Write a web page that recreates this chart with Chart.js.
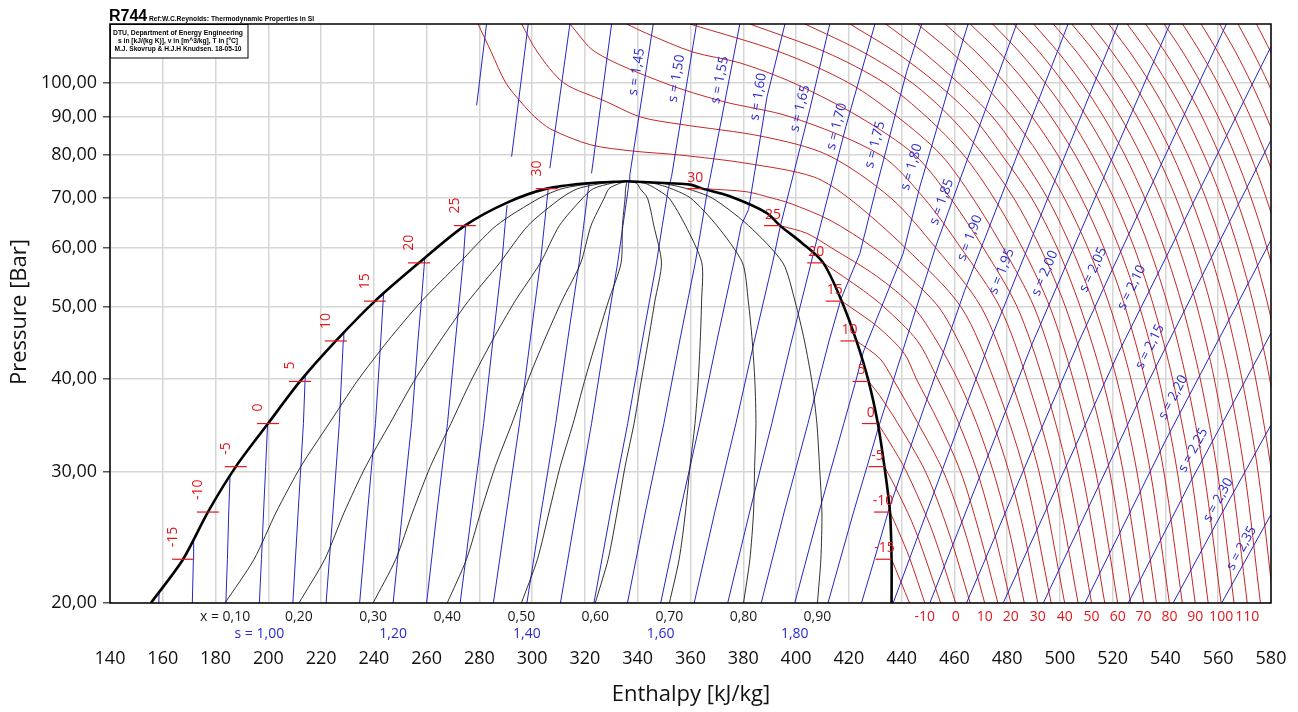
<!DOCTYPE html>
<html><head><meta charset="utf-8">
<script src="https://cdn.jsdelivr.net/npm/chart.js@4.4.1/dist/chart.umd.min.js"></script>
<style>html,body{margin:0;padding:0;background:#fff}canvas{display:block}</style>
</head><body>
<canvas id="c" width="1298" height="712"></canvas>
<script>
// ---------- axes ----------
const enthalpyTicks = [140,160,180,200,220,240,260,280,300,320,340,360,380,400,420,440,460,480,500,520,540,560,580];
const pressureTicks = [20,30,40,50,60,70,80,90,100];

// ---------- saturation dome ----------
const liquidLineH = [155.5,167.7,177.1,187.7,199.9,212.0,225.6,240.4,257.1,274.5,290.3,305.5,320.6,335.8];
const liquidLineP = [20,22.9,26.5,30.5,34.85,39.7,45.0,50.9,57.3,64.3,69.0,72.1,73.3,73.77];
const vaporLineH = [335.8,352.2,359.8,364.5,374.9,388.8,393.9,402.1,410.3,417.3,422.9,427.5,431.0,433.5,435.6,436.2,436.2];
const vaporLineP = [73.77,73.3,73.0,72.1,70.4,66.9,64.3,61.0,57.3,50.9,45.0,39.7,34.85,30.5,26.5,22.9,20];

// ---------- saturation temperature marks ----------
const satTemps = [-15,-10,-5,0,5,10,15,20,25,30];
const satPress = [22.9,26.5,30.5,34.85,39.7,45.0,50.9,57.3,64.3,72.1];
const satLiqH  = [167.7,177.1,187.7,199.9,212.0,225.6,240.4,257.1,274.5,305.5];
const satVapH  = [436.2,435.6,433.5,431.0,427.5,422.9,417.3,410.3,393.9,364.5];

// ---------- quality lines ----------
const qualities = [0.1,0.2,0.3,0.4,0.5,0.6,0.7,0.8,0.9];
const qualityP = [20,22.9,26.5,30.5,34.85,39.7,45.0,50.9,57.3,64.3,70,72.1,73.3,73.77];
const qualityH = [
 [183.6,194.6,203.0,212.3,223.0,233.6,245.3,258.1,272.4,286.4,302.7,311.4,323.8,335.8],
 [211.6,221.4,228.8,236.9,246.1,255.1,265.1,275.8,287.7,298.4,310.9,317.3,326.9,335.8],
 [239.7,248.3,254.7,261.4,269.2,276.7,284.8,293.5,303.1,310.3,319.1,323.2,330.1,335.8],
 [267.8,275.1,280.5,286.0,292.3,298.2,304.5,311.2,318.4,322.3,327.3,329.1,333.2,335.8],
 [295.9,302.0,306.4,310.6,315.5,319.8,324.3,328.9,333.7,334.2,335.2,335.4,335.8,335.8],
 [323.9,328.8,332.2,335.2,338.6,341.3,344.0,346.5,349.0,346.1,343.7,340.9,339.6,335.8],
 [352.0,355.7,358.1,359.8,361.7,362.9,363.7,364.2,364.3,358.1,351.9,346.8,342.7,335.8],
 [380.1,382.5,383.9,384.3,384.8,384.4,383.4,381.9,379.7,370.0,360.1,352.7,345.9,335.8],
 [408.1,409.4,409.8,408.9,407.9,406.0,403.2,399.6,395.0,382.0,368.3,358.6,349.0,335.8]
];

// ---------- isentropes (h,p pairs) ----------
const isentropeS = [0.85,0.90,0.95,1.00,1.05,1.10,1.15,1.20,1.25,1.30,1.35,1.40,1.45,1.50,1.55,1.60,1.65,1.70,1.75,1.80,1.85,1.90,1.95,2.00,2.05,2.10,2.15,2.20,2.25,2.30,2.35];
const isentropeLines = [
 [158.5,20, 158.6,20.7],
 [171.2,20, 171.6,22.9, 171.7,24.4],
 [183.9,20, 184.5,22.9, 185.0,26.5, 185.5,29.7],
 [196.6,20, 197.4,22.9, 198.2,26.5, 199.0,30.5, 199.7,34.7],
 [209.3,20, 211.3,26.5, 213.3,34.85, 214.0,40.5],
 [221.9,20, 224.5,26.5, 226.9,34.85, 228.4,45, 228.6,46.1],
 [234.6,20, 237.6,26.5, 240.6,34.85, 242.6,45, 243.7,52.2],
 [247.3,20, 250.8,26.5, 254.3,34.85, 256.7,45, 258.0,50.9, 259.3,58.1],
 [260.0,20, 263.9,26.5, 267.9,34.85, 270.9,45, 273.8,57.3, 274.8,64.4],
 [272.7,20, 277.1,26.5, 281.6,34.85, 285.1,45, 288.5,57.3, 289.7,64.3, 290.5,68.5],
 [285.3,20, 290.3,26.5, 295.2,34.85, 299.2,45, 303.1,57.3, 304.6,64.3, 306.1,72.1],
 [298.0,20, 303.4,26.5, 308.9,34.85, 313.4,45, 317.8,57.3, 319.5,64.3, 321.3,72.1, 321.6,73.2],
 [310.7,20, 316.6,26.5, 322.5,34.85, 327.5,45, 332.4,57.3, 334.4,64.3, 336.4,72.1, 336.7,73.77, 337.0,75.2, 345.9,120],
 [323.4,20, 329.7,26.5, 336.2,34.85, 341.7,45, 347.1,57.3, 349.3,64.3, 351.6,72.1, 352.8,74.8, 362.3,120],
 [336.1,20, 342.9,26.5, 349.9,34.85, 355.9,45, 361.8,57.3, 364.2,64.3, 366.4,71.6, 367.4,74.4, 378.7,120],
 [348.7,20, 356.0,26.5, 363.5,34.85, 370.0,45, 376.4,57.3, 379.2,64.3, 382.0,67.6, 389.0,95.8, 395.8,120],
 [361.4,20, 369.2,26.5, 377.2,34.85, 384.2,45, 391.1,57.3, 394.1,64.3, 405.3,92.4, 412.8,120],
 [374.1,20, 382.4,26.5, 390.8,34.85, 398.3,45, 405.7,57.3, 406.5,58.9, 418.9,87.4, 429.9,120],
 [386.8,20, 395.5,26.5, 404.5,34.85, 412.5,45, 417.0,51.2, 424.2,59, 430.5,72.5, 436.2,86.7, 441.9,103.5, 447.6,120],
 [399.5,20, 408.7,26.5, 418.1,34.85, 422.6,39.7, 425.5,43.5, 440.6,59, 446.9,72.5, 453.3,86.7, 459.6,103.5, 465.2,120],
 [412.1,20, 421.8,26.5, 426.9,30.5, 431.2,34.4, 453.3,60.8, 483.6,120],
 [424.8,20, 429.7,22.9, 435.3,26.8, 463.9,52.6, 503.1,120],
 [436.8,20, 473.2,44.7, 522.1,120],
 [450.7,20, 489.6,44.7, 541.7,120],
 [464.6,20, 506.9,44.7, 563.1,120],
 [478.5,20, 522.2,43.4, 580,111.9],
 [493.7,20, 531.0,38.1, 580,83.8],
 [509.5,20, 540.1,33.1, 580,61.5],
 [525.9,20, 549.5,29.1, 580,46.1],
 [542.9,20, 559.3,25.6, 580,34.7],
 [561.3,20, 580,26.3]
];
const upperIsentropeS = [1.25,1.30,1.35,1.40];
const upperIsentropeLines = [
 [278.95,93.3, 282.7,120],
 [292.2,79.6, 298.5,120],
 [306.7,76.8, 314.3,120],
 [322.5,75.6, 330.1,120]
];
const sLabelS = [1.45,1.50,1.55,1.60,1.65,1.70,1.75,1.80,1.85,1.90,1.95,2.00,2.05,2.10,2.15,2.20,2.25,2.30,2.35];
const sLabelH = [339.6,354.7,371.1,385.7,401.5,415.4,429.9,443.8,455.2,465.9,477.9,494.3,512.6,527.2,534.1,542.9,550.5,560.0,568.8];
const sLabelP = [103.5,101.4,100.9,95.8,92.4,87.4,82.6,77.1,69.2,61.9,55.8,55.5,56.1,53.1,44.2,37.8,32.1,27.5,23.7];
const sBottomLabelS = [1.00,1.20,1.40,1.60,1.80];

// ---------- isotherms (h,p pairs) ----------
const isothermTemps = [-15,-10,-5,0,5,10,15,20,25,30,35,40,45,50,55,60,65,70,75];
const isothermLines = [
 [436.2,22.9, 443,20],
 [435.6,26.5, 438.8,25, 443.0,23, 448.8,20],
 [433.5,30.5, 439.0,28, 445.3,25, 454.8,20],
 [431.0,34.85, 435.2,33, 441.9,30, 451.6,25, 460.5,20],
 [427.5,39.7, 431.7,38, 438.3,35, 449.1,30, 457.7,25, 466,20],
 [422.9,45, 431.8,42.6, 436.7,40, 446,35, 455.9,30, 463.9,25, 471.5,20],
 [417.3,50.9, 420.5,50, 431,47, 441,43.3, 445.6,40, 454,35, 462.4,30, 469.3,25, 476.5,20],
 [410.3,57.3, 425.5,52.6, 433.3,50, 446,45, 453.7,40, 461.5,35, 468.7,30, 475,25, 481.4,20],
 [393.9,64.3, 404,62.8, 413.5,60, 430.5,55, 444.4,50, 453.3,45, 461.2,40, 468.3,35, 474.8,30, 480.8,25, 486.5,20],
 [364.5,72.1, 381.3,71.4, 391,70, 397.7,68.9, 412.8,65.4, 429.5,60, 442.5,55, 454,50, 461.5,45, 468.2,40, 474.6,35, 480.7,30, 486.3,25, 491.6,20],
 [279.5,120, 284.5,110, 290,100, 296,94, 301,90, 307,86.7, 322,82.6, 338,81, 356,80, 381,78, 406.5,74.8, 420,70, 441.5,60, 462.5,50, 474.9,40, 486.5,30, 496.7,20],
 [296,120, 302,110, 312,100, 328,94.4, 341,90, 356,88, 387.5,84.7, 412,80, 436,70, 453,60, 470.1,50, 481.3,40, 492.1,30, 501.8,20],
 [314.3,120, 324,110, 350,100, 372.4,94.4, 398,90, 432,80, 448.5,70, 462.5,60, 477.2,50, 487.5,40, 497.6,30, 506.9,20],
 [335.8,120, 343.3,116.6, 361,110, 378.7,106.4, 399,100, 424,90, 445,80, 458.5,70, 471,60, 483.8,50, 493.5,40, 503,30, 512,20],
 [359.8,120, 394,110, 420,100, 438.5,90, 455,80, 467,70, 478.5,60, 490.2,50, 499.3,40, 508.4,30, 517,20],
 [382.5,120, 411.2,110, 433.5,100, 449.5,90, 463.5,80, 475,70, 485.8,60, 496.2,50, 505,40, 513.6,30, 521.9,20],
 [403.4,120, 425.4,110, 444,100, 458.5,90, 471,80, 482.5,70, 492.6,60, 502.1,50, 510.6,40, 518.9,30, 526.8,20],
 [420.4,120, 437.7,110, 453.1,100, 467,90, 478,80, 489.3,70, 499,60, 507.7,50, 516.1,40, 524,30, 531.7,20],
 [434,120, 448.2,110, 461.5,100, 474.5,90, 485,80, 495.3,70, 504.4,60, 513.2,50, 521.5,40, 529.2,30, 536.6,20]
];
const hotIsothermTemps = [80,85,90,95,100,105,110,115,120,125,130,135,140,145,150,155,160,165];
const hotIsothermP = [120,110,100,90,80,70,60,50,40,30,20];
const hotIsothermH = [
 [446.0,458.8,470.7,481.8,492.1,501.7,510.6,519.0,526.9,534.3,541.5],
 [456.5,468.2,479.2,489.5,499.2,508.2,516.7,524.7,532.2,539.4,546.4],
 [466.0,476.9,487.1,496.7,505.8,514.4,522.5,530.2,537.5,544.5,551.3],
 [474.5,484.7,494.4,503.6,512.2,520.4,528.2,535.6,542.7,549.6,556.2],
 [482.5,492.2,501.4,510.2,518.5,526.4,533.9,541.1,547.9,554.6,561.1],
 [490.0,499.3,508.2,516.6,524.6,532.2,539.5,546.5,553.2,559.7,566.0],
 [497.5,506.4,514.9,523.0,530.7,538.1,545.2,552.0,558.5,564.8,571.0],
 [504.5,513.2,521.4,529.3,536.8,544.0,550.8,557.4,563.8,570.0,576.0],
 [511.5,519.8,527.8,535.4,542.7,549.6,556.3,562.8,569.0,575.1,581.0],
 [518.5,526.5,534.2,541.5,548.5,555.3,561.8,568.1,574.2,580.2,586.0],
 [525.5,533.2,540.6,547.8,554.6,561.2,567.5,573.6,579.5,585.3,591.0],
 [532.5,539.9,547.0,553.9,560.5,566.8,573.0,579.0,584.8,590.4,596.0],
 [539.5,546.6,553.4,560.0,566.3,572.5,578.5,584.3,590.0,595.5,601.0],
 [546.5,553.2,559.8,566.1,572.2,578.2,584.0,589.6,595.2,600.6,606.0],
 [553.5,559.9,566.1,572.2,578.1,583.9,589.5,595.0,600.4,605.7,611.0],
 [560.5,566.6,572.5,578.3,584.0,589.5,595.0,600.3,605.6,610.8,616.0],
 [567.5,573.2,578.9,584.4,589.9,595.2,600.5,605.7,610.8,615.9,621.0],
 [574.5,579.9,585.3,590.5,595.7,600.9,606.0,611.0,616.1,621.1,626.0]
];
const bottomTempLabels = [-10,0,10,20,30,40,50,60,70,80,90,100,110];

// ---------- build datasets ----------
const RED_LINE = 'rgb(196,38,38)', BLUE_LINE = 'rgb(38,38,196)';
const RED_TXT = '#e3161b', BLUE_TXT = '#2a2ad0';
const pairs = a => { const r = []; for (let i = 0; i < a.length; i += 2) r.push({x: a[i], y: a[i+1]}); return r; };
const fmt = (v, d) => v.toFixed(d).replace('.', ',');

const isoByT = {};
isothermTemps.forEach((t, i) => { isoByT[t] = pairs(isothermLines[i]); });
hotIsothermTemps.forEach((t, i) => { isoByT[t] = hotIsothermP.map((p, j) => ({x: hotIsothermH[i][j], y: p})); });
const sByS = {};
isentropeS.forEach((s, i) => { sByS[s.toFixed(2)] = pairs(isentropeLines[i]); });

const datasets = [];
Object.keys(isoByT).forEach(t => datasets.push({data: isoByT[t], borderColor: RED_LINE, borderWidth: 1, tension: 0.3, order: 4}));
isentropeS.forEach(s => datasets.push({data: sByS[s.toFixed(2)], borderColor: BLUE_LINE, borderWidth: 1, tension: 0, order: 3}));
upperIsentropeLines.forEach(a => datasets.push({data: pairs(a), borderColor: BLUE_LINE, borderWidth: 1, tension: 0, order: 3}));
qualityH.forEach(row => datasets.push({data: qualityP.map((p, j) => ({x: row[j], y: p})), borderColor: '#1a1a1a', borderWidth: 0.9, tension: 0.25, order: 2}));
datasets.push({data: liquidLineH.map((h, i) => ({x: h, y: liquidLineP[i]})), borderColor: '#000', borderWidth: 2.6, tension: 0.3, order: 1});
datasets.push({data: vaporLineH.map((h, i) => ({x: h, y: vaporLineP[i]})), borderColor: '#000', borderWidth: 2.6, tension: 0.3, order: 1});
datasets.forEach(d => { d.showLine = true; d.pointRadius = 0; d.fill = false; });

function upAngle(pts, py) {
  let best = null, bd = 1e9;
  for (let i = 0; i < pts.length - 1; i++) {
    const a = pts[i], b = pts[i+1];
    const lo = Math.min(a.y, b.y), hi = Math.max(a.y, b.y);
    const d = py < lo ? lo - py : (py > hi ? py - hi : 0);
    if (d < bd) { bd = d; best = [a, b]; }
  }
  let dx = best[1].x - best[0].x, dy = best[1].y - best[0].y;
  if (dy > 0) { dx = -dx; dy = -dy; }
  return Math.atan2(dy, dx);
}

const overlay = {
  id: 'overlay',
  afterDatasetsDraw(chart) {
    const {ctx, chartArea: a, scales: {x, y}} = chart;
    const X = h => x.getPixelForValue(h), Y = p => y.getPixelForValue(p);
    ctx.save();
    // saturation temperature marks
    ctx.strokeStyle = RED_TXT; ctx.fillStyle = RED_TXT; ctx.lineWidth = 1.2;
    ctx.font = '14px "Open Sans"';
    satTemps.forEach((t, i) => {
      const yy = Y(satPress[i]);
      const xl = X(satLiqH[i]);
      ctx.beginPath(); ctx.moveTo(xl - 11, yy); ctx.lineTo(xl + 11, yy); ctx.stroke();
      ctx.save(); ctx.translate(xl - 10, yy - 12); ctx.rotate(-Math.PI / 2);
      ctx.textAlign = 'left'; ctx.textBaseline = 'middle'; ctx.fillText(String(t), 0, 0); ctx.restore();
      const xv = X(satVapH[i]);
      ctx.beginPath(); ctx.moveTo(xv - 16, yy); ctx.lineTo(xv, yy); ctx.stroke();
      ctx.textAlign = 'center'; ctx.textBaseline = 'middle'; ctx.fillText(String(t), xv - 7, yy - 11);
    });
    // isentrope labels
    ctx.fillStyle = BLUE_TXT; ctx.font = '13.5px "Open Sans"';
    ctx.textAlign = 'center'; ctx.textBaseline = 'middle';
    sLabelS.forEach((s, i) => {
      const px = X(sLabelH[i]), py = Y(sLabelP[i]);
      const pts = sByS[s.toFixed(2)].map(q => ({x: X(q.x), y: Y(q.y)}));
      const ang = upAngle(pts, py);
      ctx.save(); ctx.translate(px, py); ctx.rotate(ang);
      ctx.fillText('s = ' + fmt(s, 2), 0, 0); ctx.restore();
    });
    // bottom rows
    ctx.font = '14px "Open Sans"'; ctx.textAlign = 'center'; ctx.textBaseline = 'middle';
    ctx.fillStyle = '#1a1a1a';
    qualities.forEach((q, i) => ctx.fillText((i === 0 ? 'x = ' : '') + fmt(q, 2), X(qualityH[i][0]), 617));
    ctx.fillStyle = BLUE_TXT;
    sBottomLabelS.forEach((s, i) => ctx.fillText((i === 0 ? 's = ' : '') + fmt(s, 2), X(sByS[s.toFixed(2)][0].x), 634));
    ctx.fillStyle = RED_TXT;
    bottomTempLabels.forEach(t => { const pts = isoByT[t]; ctx.fillText(String(t), X(pts[pts.length - 1].x), 617); });
    // frame
    ctx.strokeStyle = '#000'; ctx.lineWidth = 1.5;
    ctx.strokeRect(a.left, a.top, a.right - a.left, a.bottom - a.top);
    // header
    ctx.fillStyle = '#000'; ctx.textAlign = 'left'; ctx.textBaseline = 'alphabetic';
    ctx.font = 'bold 16px "Liberation Sans"'; ctx.fillText('R744', 109, 21);
    ctx.font = 'bold 8px "Liberation Sans"'; ctx.fillText('Ref:W.C.Reynolds: Thermodynamic Properties in SI', 149, 21, 165);
    ctx.fillStyle = '#fff'; ctx.fillRect(110, 25, 138, 33);
    ctx.strokeStyle = '#000'; ctx.lineWidth = 1; ctx.strokeRect(110.5, 24.5, 137.5, 33.5);
    ctx.fillStyle = '#000'; ctx.textAlign = 'center'; ctx.textBaseline = 'middle';
    ctx.font = 'bold 7.5px "Liberation Sans"';
    ctx.fillText('DTU, Department of Energy Engineering', 178, 33, 130);
    ctx.fillText('s in [kJ/(kg K)], v in [m^3/kg], T in [ºC]', 178, 41, 120);
    ctx.fillText('M.J. Skovrup & H.J.H Knudsen. 18-05-10', 178, 49, 127);
    // axis titles
    ctx.fillStyle = '#111'; ctx.font = '22px "Open Sans"';
    ctx.fillText('Enthalpy [kJ/kg]', (a.left + a.right) / 2 + 0.5, 695);
    ctx.save(); ctx.translate(20, 312); ctx.rotate(-Math.PI / 2);
    ctx.fillText('Pressure [Bar]', 0, 0); ctx.restore();
    ctx.restore();
  }
};

new Chart(document.getElementById('c'), {
  type: 'scatter',
  data: {datasets},
  options: {
    responsive: false, animation: false, devicePixelRatio: 1, events: [],
    layout: {padding: {top: 24, right: 27, left: 0, bottom: 0}},
    plugins: {legend: {display: false}, tooltip: {enabled: false}},
    scales: {
      x: {
        type: 'linear', min: 140, max: 580,
        afterBuildTicks: s => { s.ticks = enthalpyTicks.map(v => ({value: v})); },
        afterFit: s => { s.height = 109; s.paddingLeft = 0; s.paddingRight = 0; },
        grid: {color: '#d6d6d6', lineWidth: 1.5, drawTicks: true, tickLength: 45, tickColor: 'rgba(0,0,0,0)'},
        border: {display: false},
        ticks: {padding: 0, autoSkip: false, maxRotation: 0, color: '#111', font: {family: 'Open Sans', size: 18}, callback: v => String(v)}
      },
      y: {
        type: 'logarithmic', min: 20, max: 120,
        afterBuildTicks: s => { s.ticks = pressureTicks.map(v => ({value: v})); },
        afterFit: s => { s.width = 110; s.paddingTop = 0; s.paddingBottom = 0; },
        grid: {color: '#d6d6d6', lineWidth: 1.5, tickLength: 7, tickColor: '#555'},
        border: {display: false},
        ticks: {padding: 6, autoSkip: false, color: '#111', font: {family: 'Open Sans', size: 18}, callback: v => fmt(v, 2)}
      }
    }
  },
  plugins: [overlay]
});
</script>
</body></html>
